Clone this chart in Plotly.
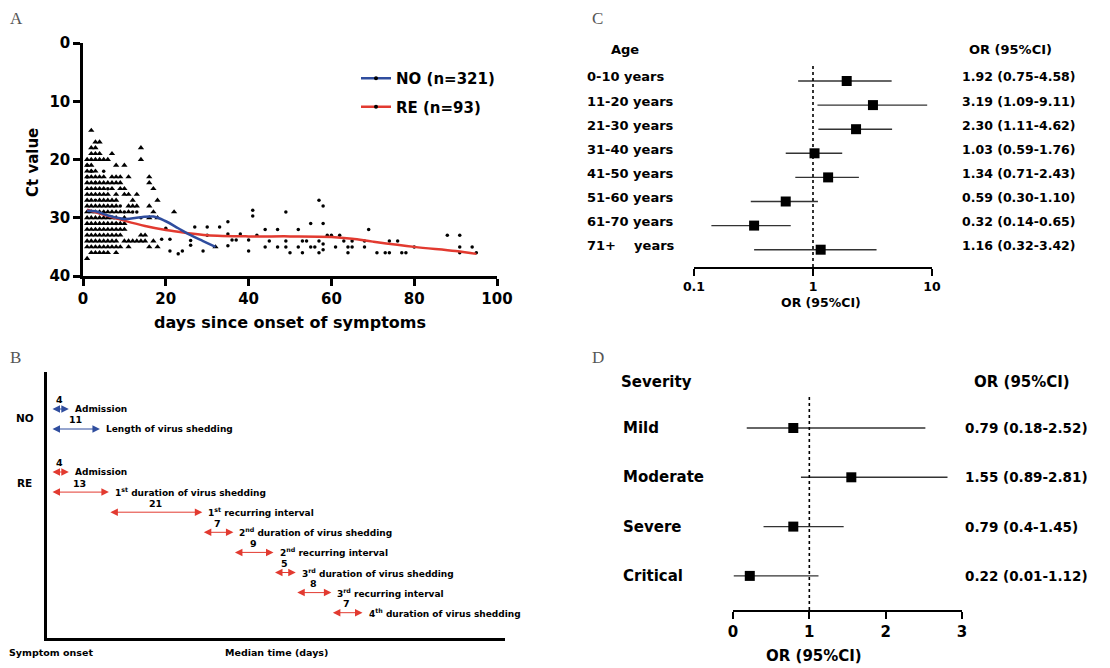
import plotly.graph_objects as go

W, H = 1110, 668
FONT = "DejaVu Sans"

# ---------------- Panel A data ----------------
# NO group (triangles): Ct values read per day
no_ct_by_day = {
    1: [20, 21, 22, 23, 24, 25, 26, 27, 28, 29, 30, 31, 32, 33, 34, 35, 37],
    2: [15, 18, 19, 20, 21, 22, 23, 24, 25, 26, 27, 28, 29, 30, 31, 32, 33, 34, 35, 36],
    3: [17, 18, 19, 20, 22, 23, 24, 25, 26, 28, 29, 30, 31, 32, 33, 34, 35, 36],
    4: [17, 19, 20, 23, 24, 25, 26, 27, 28, 29, 30, 31, 32, 33, 34, 35, 36],
    5: [20, 23, 24, 25, 26, 27, 28, 29, 30, 31, 32, 33, 34, 35, 36],
    6: [20, 24, 26, 27, 28, 29, 30, 31, 32, 33, 34, 35, 36],
    7: [19, 23, 24, 25, 27, 28, 29, 30, 31, 32, 33, 34, 35],
    8: [21, 23, 24, 26, 27, 28, 29, 30, 31, 32, 33, 34, 35, 36],
    9: [23, 24, 25, 29, 31, 32, 33, 35],
    10: [21, 25, 26, 30, 31, 32, 34],
    11: [23, 26, 28, 29, 34, 35],
    12: [27, 28, 34],
    13: [26, 28, 34],
    14: [18, 20, 33, 34],
    15: [33, 34],
    16: [23, 24, 28, 30, 35],
    17: [25, 29, 34],
    18: [27, 30, 35],
    22: [29],
    32: [35],
}
no_day = [d for d, cts in no_ct_by_day.items() for _ in cts]
no_ct = [c for d, cts in no_ct_by_day.items() for c in cts]

# RE group (dots)
re_day = [1, 1, 2, 3, 3, 5, 6, 8, 9, 10, 12, 13, 14, 19, 20, 21, 21, 23, 24, 26, 26, 27, 29,
          30, 30, 33, 35, 35, 35, 36, 37, 38, 40, 40, 41, 41, 42, 44, 44, 45, 47, 47, 49,
          49, 49, 50, 52, 52, 53, 53, 54, 55, 55, 56, 57, 57, 57, 58, 58, 58, 58, 59, 60,
          61, 62, 63, 64, 64, 65, 65, 68, 68, 69, 71, 73, 74, 74, 76, 77, 78, 80, 88, 91,
          91, 91, 94, 95]
re_ct = [21, 23, 22, 24, 27, 22, 25, 31, 28, 29, 29, 29, 30, 33.7, 31.8, 33.7, 35.7, 36.2,
         35.7, 33.9, 34.7, 31.6, 35.7, 31.6, 33, 31.6, 30.7, 32.8, 34.8, 33.8, 33.8, 32.8,
         33.8, 35.7, 28.7, 29.7, 33, 32, 35, 34, 32, 35, 29, 34, 35, 36, 32, 35, 34, 36, 34,
         31, 35, 35, 27, 34, 36, 28, 31, 34.5, 35.5, 33, 33, 35, 33, 34, 35, 36, 34, 35, 34,
         35, 32, 36, 36, 34, 36, 34, 36, 36, 35, 33, 33, 35, 36, 35, 36]

no_fit_day = [1, 3, 6, 10, 14, 17, 20, 23, 26, 29, 32]
no_fit_ct = [28.8, 28.9, 29.6, 30.2, 29.9, 29.8, 30.6, 31.8, 33.0, 34.0, 35.0]
re_fit_day = [1, 5, 10, 15, 20, 25, 30, 40, 50, 60, 65, 70, 80, 90, 95]
re_fit_ct = [28.6, 29.5, 30.5, 31.4, 32.1, 32.6, 33.0, 33.2, 33.2, 33.3, 33.6, 34.1, 35.0, 35.7, 36.2]

# ---------------- Panel B data ----------------
no_events = ["Admission", "Length of virus shedding"]
no_days = [4, 11]
re_events = ["Admission",
             "1<sup>st</sup> duration of virus shedding",
             "1<sup>st</sup> recurring interval",
             "2<sup>nd</sup> duration of virus shedding",
             "2<sup>nd</sup> recurring interval",
             "3<sup>rd</sup> duration of virus shedding",
             "3<sup>rd</sup> recurring interval",
             "4<sup>th</sup> duration of virus shedding"]
re_days = [4, 13, 21, 7, 9, 5, 8, 7]

# ---------------- Panel C data ----------------
age_labels = ["0-10 years", "11-20 years", "21-30 years", "31-40 years",
              "41-50 years", "51-60 years", "61-70 years", "71+\u00a0\u00a0\u00a0\u00a0years"]
age_or = [1.92, 3.19, 2.30, 1.03, 1.34, 0.59, 0.32, 1.16]
age_lo = [0.75, 1.09, 1.11, 0.59, 0.71, 0.30, 0.14, 0.32]
age_hi = [4.58, 9.11, 4.62, 1.76, 2.43, 1.10, 0.65, 3.42]

# ---------------- Panel D data ----------------
sev_labels = ["Mild", "Moderate", "Severe", "Critical"]
sev_or = [0.79, 1.55, 0.79, 0.22]
sev_lo = [0.18, 0.89, 0.4, 0.01]
sev_hi = [2.52, 2.81, 1.45, 1.12]

# ---------------- helpers ----------------
def px(x):
    return x / W

def py(y):
    return 1 - y / H

def bfont(size, color="black"):
    return dict(family=FONT, size=size, color=color, weight="bold")

def text_ann(text, x, y, size, xanchor="center", xref="paper", yref="paper", **kw):
    d = dict(text=text, x=x, y=y, xref=xref, yref=yref, xanchor=xanchor, yanchor="middle",
             showarrow=False, font=kw.pop("font", bfont(size)))
    d.update(kw)
    return d

BLUE = "#2f4d9e"
RED = "#e23a30"
fig = go.Figure()
ann = []
shapes = []

# ======== Panel A ========
fig.add_trace(go.Scatter(x=no_day, y=no_ct, mode="markers", xaxis="x", yaxis="y",
                         marker=dict(symbol="triangle-up", size=5.5, color="black"),
                         showlegend=False))
fig.add_trace(go.Scatter(x=re_day, y=re_ct, mode="markers", xaxis="x", yaxis="y",
                         marker=dict(symbol="circle", size=3.5, color="black"),
                         showlegend=False))
fig.add_trace(go.Scatter(x=re_fit_day, y=re_fit_ct, mode="lines", xaxis="x", yaxis="y",
                         line=dict(color=RED, width=2.5, shape="spline"), showlegend=False))
fig.add_trace(go.Scatter(x=no_fit_day, y=no_fit_ct, mode="lines", xaxis="x", yaxis="y",
                         line=dict(color=BLUE, width=2.5, shape="spline"), showlegend=False))
fig.add_trace(go.Scatter(x=[None], y=[None], mode="lines+markers", xaxis="x", yaxis="y",
                         name="NO (n=321)", legendgroup="no",
                         line=dict(color=BLUE, width=2.5),
                         marker=dict(color="black", size=4)))
fig.add_trace(go.Scatter(x=[None], y=[None], mode="lines+markers", xaxis="x", yaxis="y",
                         name="RE (n=93)", legendgroup="re",
                         line=dict(color=RED, width=2.5),
                         marker=dict(color="black", size=4)))

ann.append(text_ann("Ct value", px(33), py(163), 15, textangle=-90))
ann.append(text_ann("days since onset of symptoms", px(290), py(323), 16))

# ======== Panel B ========
X0_B = 51.0   # pixel of day 0
SC_B = 4.45   # pixels per day
no_rows = [409 + 20 * i for i in range(len(no_events))]
re_rows = [472 + 20.1 * i for i in range(len(re_events))]
re_start = [0] + [sum(re_days[1:i]) for i in range(1, len(re_days))]
no_start = [0 for _ in no_days]

def arrow_row(start, dur, row, label, color):
    end = start + dur
    ann.append(dict(x=end, y=row, ax=start, ay=row, xref="x2", yref="y2", axref="x2",
                    ayref="y2", text="", showarrow=True, arrowhead=2, arrowside="end+start",
                    arrowsize=1.5, arrowwidth=1, arrowcolor=color, standoff=0,
                    startstandoff=0))
    ann.append(text_ann(str(dur), (start + end) / 2, row - 9, 9.5, xref="x2", yref="y2"))
    ann.append(text_ann(label, end, row, 9, xanchor="left", xref="x2", yref="y2",
                        xshift=4))

for s, d, r, l in zip(no_start, no_days, no_rows, no_events):
    arrow_row(s, d, r, l, BLUE)
for s, d, r, l in zip(re_start, re_days, re_rows, re_events):
    arrow_row(s, d, r, l, RED)

ann.append(text_ann("NO", px(25), 418, 10.5, yref="y2"))
ann.append(text_ann("RE", px(24), 483, 10.5, yref="y2"))
ann.append(text_ann("Symptom onset", px(51), py(652), 9.5))
ann.append(text_ann("Median time (days)", px(276), py(652), 9.5))

# ======== Panel C ========
c_rows = list(range(len(age_labels)))
fig.add_trace(go.Scatter(
    x=age_or, y=c_rows, mode="markers", xaxis="x3", yaxis="y3", showlegend=False,
    marker=dict(symbol="square", size=10, color="black"),
    error_x=dict(type="data", symmetric=False,
                 array=[h - o for h, o in zip(age_hi, age_or)],
                 arrayminus=[o - l for o, l in zip(age_or, age_lo)],
                 color="#333333", thickness=1.4, width=0)))
shapes.append(dict(type="line", xref="x3", yref="y3 domain", x0=1, x1=1, y0=0, y1=1,
                   line=dict(color="black", width=1.6, dash="dot")))
ann.append(text_ann("Age", px(609), py(49), 13, xanchor="left"))
ann.append(text_ann("OR (95%CI)", px(967), py(49), 13, xanchor="left"))
for r, lab, o, l, h in zip(c_rows, age_labels, age_or, age_lo, age_hi):
    ann.append(text_ann(lab, px(585), r - 0.17, 13, xanchor="left", yref="y3"))
    ann.append(text_ann(f"{o:.2f} ({l:.2f}-{h:.2f})", px(960), r - 0.17, 12.5,
                        xanchor="left", yref="y3"))
ann.append(text_ann("OR (95%CI)", px(821), py(302), 12.5))

# ======== Panel D ========
d_rows = list(range(len(sev_labels)))
fig.add_trace(go.Scatter(
    x=sev_or, y=d_rows, mode="markers", xaxis="x4", yaxis="y4", showlegend=False,
    marker=dict(symbol="square", size=10, color="black"),
    error_x=dict(type="data", symmetric=False,
                 array=[h - o for h, o in zip(sev_hi, sev_or)],
                 arrayminus=[o - l for o, l in zip(sev_or, sev_lo)],
                 color="#333333", thickness=1.4, width=0)))
shapes.append(dict(type="line", xref="x4", yref="y4 domain", x0=1, x1=1, y0=0, y1=1,
                   line=dict(color="black", width=1.6, dash="dot")))
ann.append(text_ann("Severity", px(619), py(382), 15, xanchor="left"))
ann.append(text_ann("OR (95%CI)", px(972), py(382), 15, xanchor="left"))
for r, lab, o, l, h in zip(d_rows, sev_labels, sev_or, sev_lo, sev_hi):
    ann.append(text_ann(lab, px(621), r, 15, xanchor="left", yref="y4"))
    ann.append(text_ann(f"{o:g} ({l:g}-{h:g})", px(963), r, 13.5, xanchor="left",
                        yref="y4"))
ann.append(text_ann("OR (95%CI)", px(814), py(656), 15))

# ======== Panel letters ========
for letter, x, y in [("A", 8, 18), ("B", 8, 357), ("C", 590, 18), ("D", 590, 358)]:
    ann.append(text_ann(letter, px(x), py(y), 17, xanchor="left",
                        font=dict(family="Liberation Serif", size=17, color="#555555")))

common_hidden = dict(visible=False, showgrid=False, zeroline=False, automargin=False)

fig.update_layout(
    width=W, height=H, margin=dict(l=0, r=0, t=0, b=0, autoexpand=False),
    paper_bgcolor="white", plot_bgcolor="white",
    font=dict(family=FONT, color="black"),
    xaxis=dict(domain=[px(83), px(497)], range=[0, 100], anchor="y", automargin=False,
               tickvals=[0, 20, 40, 60, 80, 100], showline=True, linewidth=2.5,
               linecolor="black", ticks="outside", ticklen=7, tickwidth=2.5,
               tickcolor="black", tickfont=bfont(15), showgrid=False, zeroline=False),
    yaxis=dict(domain=[py(276), py(43)], range=[40, 0], anchor="x", automargin=False,
               tickvals=[0, 10, 20, 30, 40], showline=True, linewidth=2.5,
               linecolor="black", ticks="outside", ticklen=7, tickwidth=2.5,
               tickcolor="black", tickfont=bfont(15), showgrid=False, zeroline=False),
    xaxis2=dict(domain=[px(47), px(505)], range=[(47 - X0_B) / SC_B, (505 - X0_B) / SC_B],
                anchor="y2", showline=True, linewidth=2.5, linecolor="black",
                automargin=False,
                showticklabels=False, ticks="", showgrid=False, zeroline=False),
    yaxis2=dict(domain=[py(638), py(372)], range=[638, 372], anchor="x2", showline=True,
                linewidth=2.5, linecolor="black", showticklabels=False, ticks="",
                automargin=False, showgrid=False, zeroline=False),
    xaxis3=dict(domain=[px(694), px(932)], type="log", range=[-1, 1], anchor="y3",
                automargin=False,
                tickvals=[0.1, 1, 10], ticktext=["0.1", "1", "10"], showline=True,
                linewidth=2, linecolor="black", ticks="outside", ticklen=7, tickwidth=2,
                tickcolor="black", tickfont=bfont(12.5), showgrid=False, zeroline=False),
    yaxis3=dict(domain=[py(267), py(63)], range=[(267 - 81) / 24.1, (63 - 81) / 24.1],
                anchor="x3", **common_hidden),
    xaxis4=dict(domain=[px(733), px(962)], range=[0, 3], anchor="y4", automargin=False,
                tickvals=[0, 1, 2, 3], showline=True, linewidth=2, linecolor="black",
                ticks="outside", ticklen=7, tickwidth=2, tickcolor="black",
                tickfont=bfont(15), showgrid=False, zeroline=False),
    yaxis4=dict(domain=[py(610), py(395)], range=[(610 - 428) / 49.3, (395 - 428) / 49.3],
                anchor="x4", **common_hidden),
    legend=dict(x=px(356), y=py(62), xanchor="left", yanchor="top",
                bgcolor="rgba(0,0,0,0)", font=bfont(15), tracegroupgap=6,
                itemwidth=30),
    annotations=ann, shapes=shapes,
)

fig.write_html("out.html")
